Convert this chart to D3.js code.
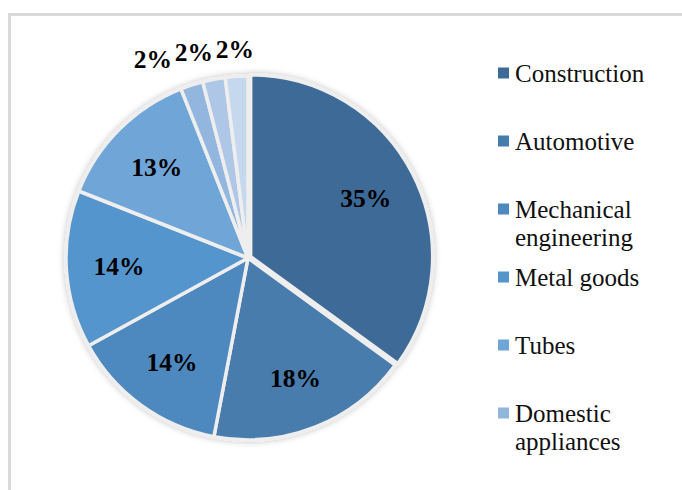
<!DOCTYPE html>
<html><head><meta charset="utf-8">
<script src="https://cdn.jsdelivr.net/npm/d3@7"></script>
<style>html,body{margin:0;padding:0;background:#fff;}svg{display:block;}
.serif{font-family:"Liberation Serif","Times New Roman",Times,"DejaVu Serif",serif;}
</style>
</head><body>
<svg id="chart" width="682" height="490"></svg>
<script>
const categories = ["Construction","Automotive","Mechanical engineering","Metal goods","Tubes","Domestic appliances","Packaging","Other"];
const values = [35,18,14,14,13,2,2,2];
const colors = ["#3E6A97","#467CAD","#4D88BE","#5595CD","#6FA5D8","#93B6DF","#AFC7E6","#C6D8EE"];
const legendCount = 6; // legend is clipped after six entries in the original

const svg = d3.select("#chart");

// frame
svg.append("rect").attr("x",9.5).attr("y",14.5).attr("width",720).attr("height",520)
  .attr("fill","#fff").attr("stroke","#D9D9D9").attr("stroke-width",3);

const defs = svg.append("defs");
const f = defs.append("filter").attr("id","shadow").attr("x","-20%").attr("y","-20%").attr("width","140%").attr("height","140%");
f.append("feDropShadow").attr("dx",0).attr("dy",0).attr("stdDeviation",3).attr("flood-color","#000").attr("flood-opacity",0.25);

const cx = 248, cy = 258, R = 182;
const pie = d3.pie().sort(null).value(d => d)(values);
const arc = d3.arc().innerRadius(0).outerRadius(R);
const labelArc = d3.arc().innerRadius(R*0.71).outerRadius(R*0.71);

const g = svg.append("g").attr("transform",`translate(${cx},${cy})`);
const explode = [3,0,0,0,0,0,0,0];

g.append("g").attr("filter","url(#shadow)")
  .selectAll("path").data(pie).join("path")
  .attr("d", arc)
  .attr("transform", (d,i) => {
    const a = (d.startAngle + d.endAngle)/2;
    return `translate(${Math.sin(a)*explode[i]},${-Math.cos(a)*explode[i]})`;
  })
  .attr("fill", (d,i) => colors[i])
  .attr("stroke", "#EEEEEE").attr("stroke-width", 3.5).attr("stroke-linejoin","round");

const fmt = d => d + "%";
const inside = pie.filter(d => d.data >= 5);
const outside = pie.filter(d => d.data < 5);

g.selectAll("text.in").data(inside).join("text").attr("class","in serif")
  .attr("transform", d => {
    const c = labelArc.centroid(d);
    const a = (d.startAngle + d.endAngle)/2;
    const e = explode[pie.indexOf(d)];
    return `translate(${c[0]+Math.sin(a)*e},${c[1]-Math.cos(a)*e})`;
  })
  .attr("text-anchor","middle").attr("dy","0.35em")
  .style("font-weight","bold").style("font-size","25.5px").attr("fill","#000")
  .text(d => fmt(d.data));

// outside labels, resolved leftward
const outR = R*1.15;
const pos = outside.map(d => {
  const a = (d.startAngle + d.endAngle)/2;
  return {d, x: Math.sin(a)*outR, y: -Math.cos(a)*outR};
});
for (let i = pos.length - 2; i >= 0; i--) {
  if (pos[i].x > pos[i+1].x - 41) pos[i].x = pos[i+1].x - 41;
}
g.selectAll("text.out").data(pos).join("text").attr("class","out serif")
  .attr("x", p => p.x).attr("y", p => p.y)
  .attr("text-anchor","middle").attr("dy","0.35em")
  .style("font-weight","bold").style("font-size","25.5px").attr("fill","#000")
  .text(p => fmt(p.d.data));

// legend
const lg = svg.append("g").attr("transform","translate(498,0)");
const ly = d3.scaleLinear().domain([0,1]).range([73,141]);
const ctx = document.createElement("canvas").getContext("2d");
ctx.font = '25px "Liberation Serif","Times New Roman",serif';
function wrap(t, maxW){
  const words = t.split(" "); const lines=[]; let cur="";
  for (const w of words){
    const test = cur ? cur+" "+w : w;
    if (ctx.measureText(test).width > maxW && cur){ lines.push(cur); cur=w; } else cur=test;
  }
  lines.push(cur); return lines;
}
categories.slice(0,legendCount).forEach((c,i) => {
  const y = ly(i);
  lg.append("rect").attr("x",0).attr("y",y-5.5).attr("width",11).attr("height",11).attr("fill",colors[i]);
  const t = lg.append("text").attr("class","serif").attr("x",17).attr("y",y+8.5)
    .style("font-size","25px").attr("fill","#111");
  wrap(c,160).forEach((l,j) => t.append("tspan").attr("x",17).attr("dy", j===0?0:28).text(l));
});
</script>
</body></html>
